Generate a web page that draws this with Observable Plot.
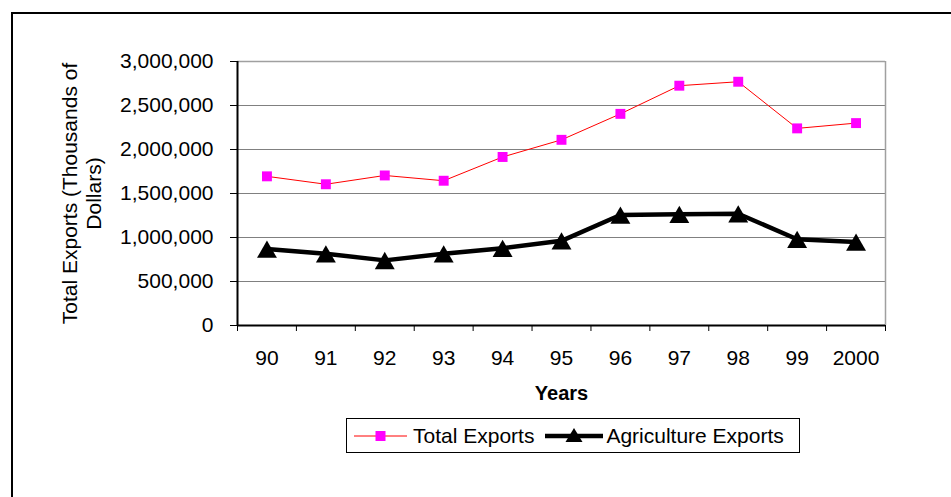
<!DOCTYPE html>
<html>
<head>
<meta charset="utf-8">
<script src="https://cdn.jsdelivr.net/npm/d3@7"></script>
<script src="https://cdn.jsdelivr.net/npm/@observablehq/plot@0.6"></script>
<style>
  body { margin: 0; background: #fff; }
  #chart { position: relative; width: 951px; height: 497px; overflow: hidden; font-family: "Liberation Sans", Arial, sans-serif; }
  #chart > svg { position: absolute; left: 0; top: 0; }
  #frame { position: absolute; left: 11px; top: 12px; width: 980px; height: 520px; border: 2px solid #000; box-sizing: border-box; }
  #legend { position: absolute; left: 346px; top: 418px; width: 454px; height: 35px; border: 1px solid #000; box-sizing: border-box;
            display: flex; align-items: center; font-size: 21px; color: #000; white-space: nowrap; }
  #legend svg { display: block; }
</style>
</head>
<body>
<div id="chart"><div id="frame"></div></div>
<script>
// Export values by year, thousands of dollars
const years = ["90", "91", "92", "93", "94", "95", "96", "97", "98", "99", "2000"];
const totalExports = [1695000, 1605000, 1705000, 1645000, 1915000, 2110000, 2405000, 2725000, 2770000, 2240000, 2300000];
const agricultureExports = [868000, 815000, 740000, 815000, 878000, 962000, 1255000, 1265000, 1270000, 980000, 950000];
const seriesNames = ["Total Exports", "Agriculture Exports"];
const yTicks = [0, 500000, 1000000, 1500000, 2000000, 2500000, 3000000];

const rows = years.map((year, i) => ({i, year, total: totalExports[i], agriculture: agricultureExports[i]}));
// category boundaries, where the x tick marks sit
const bandEdges = d3.range(years.length + 1).map(k => k - 0.5);

const font = "'Liberation Sans', Arial, sans-serif";

const chart = Plot.plot({
  width: 951,
  height: 497,
  marginLeft: 237,
  marginRight: 66,
  marginTop: 61,
  marginBottom: 172,
  style: {fontFamily: font, fontSize: "21px", color: "#000", background: "transparent", overflow: "visible"},
  x: {type: "linear", domain: [-0.5, years.length - 0.5]},
  y: {domain: [0, 3000000]},
  marks: [
    Plot.gridY(yTicks, {stroke: "#808080", strokeOpacity: 1, strokeWidth: 1}),
    Plot.ruleX([years.length - 0.5], {stroke: "#a0a0a0", strokeWidth: 1.5}),
    Plot.ruleY([3000000], {stroke: "#a0a0a0", strokeWidth: 1.5}),
    Plot.axisY({ticks: yTicks, tickFormat: d3.format(","), tickSize: 7, tickPadding: 17, fontSize: 21, label: null}),
    Plot.axisX({ticks: bandEdges, tickFormat: () => "", tickSize: 6, label: null}),
    Plot.axisX({ticks: d3.range(years.length), tickFormat: i => years[i], tickSize: 0, tickPadding: 25, fontSize: 21, label: null}),
    Plot.ruleX([-0.5], {stroke: "#000", strokeWidth: 2}),
    Plot.ruleY([0], {stroke: "#000", strokeWidth: 2}),
    Plot.line(rows, {x: "i", y: "total", stroke: "#ff0000", strokeWidth: 1}),
    Plot.dot(rows, {x: "i", y: "total", symbol: "square", r: 5.6, fill: "#ff00ff", stroke: "none"}),
    Plot.line(rows, {x: "i", y: "agriculture", stroke: "#000", strokeWidth: 4.5}),
    Plot.dot(rows, {x: "i", y: "agriculture", symbol: "triangle", r: 7.4, fill: "#000", stroke: "none", dy: 3}),
    Plot.text(["Years"], {frameAnchor: "bottom", lineAnchor: "middle", dy: 68, fontWeight: "bold", fontSize: 20}),
    Plot.text(["Total Exports (Thousands of\nDollars)"], {frameAnchor: "left", textAnchor: "middle", lineAnchor: "middle",
      dx: -156, rotate: -90, fontSize: 21, lineHeight: 1.15})
  ]
});

const container = document.getElementById("chart");
container.insertBefore(chart, container.firstChild);

// legend box below the plot
const legend = document.createElement("div");
legend.id = "legend";
legend.innerHTML = `
  <svg width="53" height="20" style="margin-left:7px">
    <line x1="0" x2="53" y1="10" y2="10" stroke="#ff0000" stroke-width="1"></line>
    <rect x="21.5" y="5" width="10" height="10" fill="#ff00ff"></rect>
  </svg>
  <span style="margin-left:6px">${seriesNames[0]}</span>
  <svg width="58" height="20" style="margin-left:11px">
    <line x1="0" x2="58" y1="10" y2="10" stroke="#000" stroke-width="4.5"></line>
    <path d="M29,2 L37.5,16 L20.5,16 Z" fill="#000"></path>
  </svg>
  <span style="margin-left:3px">${seriesNames[1]}</span>`;
container.appendChild(legend);
</script>
</body>
</html>
